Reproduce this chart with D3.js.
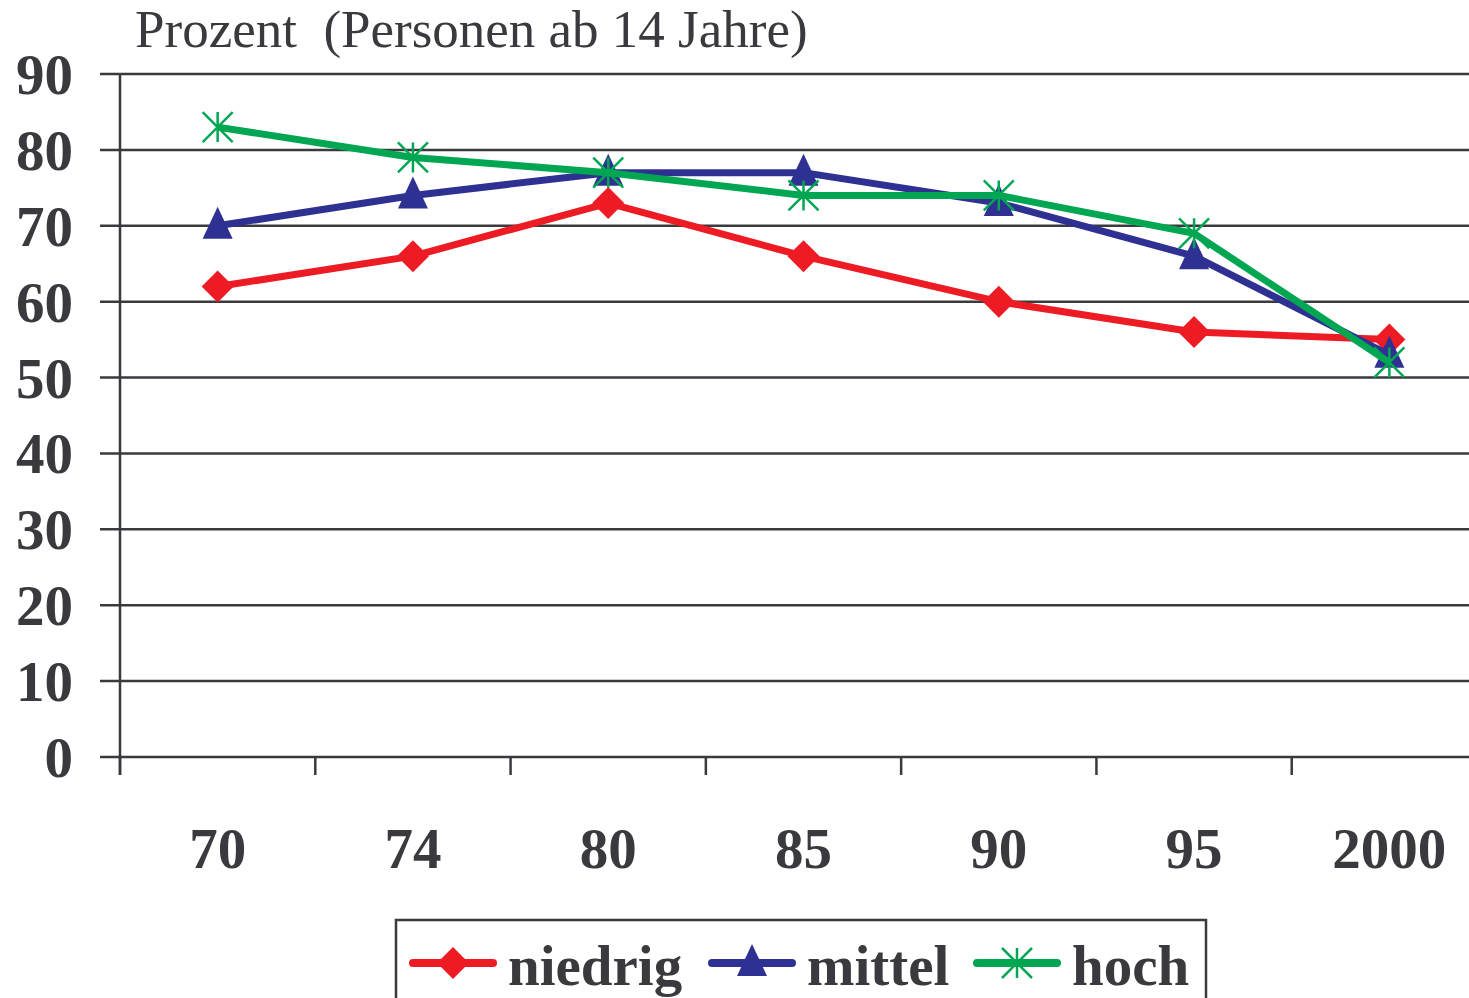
<!DOCTYPE html>
<html><head><meta charset="utf-8">
<script src="https://cdn.jsdelivr.net/npm/d3@7"></script>
<style>html,body{margin:0;padding:0;background:#fff;overflow:hidden}</style>
</head><body>
<svg id="c" width="1469" height="998"></svg>
<script>
const categories = ["70","74","80","85","90","95","2000"];
const niedrig = [62,66,73,66,60,56,55];
const mittel  = [70,74,77,77,73,66,53];
const hoch    = [83,79,77,74,74,69,52];
const yTicks = [0,10,20,30,40,50,60,70,80,90];
const seriesNames = ["niedrig","mittel","hoch"];
const seriesColors = ["#ED1C24","#2E3192","#00A651"];
const seriesShapes = ["diamond","triangle","star"];
const seriesValues = [niedrig, mittel, hoch];
const yTitle = "Prozent  (Personen ab 14 Jahre)";

const svg = d3.select("#c");
const ink = "#3a393e";
const font = "'Liberation Serif','Times New Roman',serif";

const x = d3.scaleBand().domain(categories).range([120, 1487]);
const y = d3.scaleLinear().domain([0, 90]).range([757, 74]);

svg.append("g").selectAll("line").data(yTicks).join("line")
  .attr("x1", 100).attr("x2", 1469)
  .attr("y1", d => y(d)).attr("y2", d => y(d))
  .attr("stroke", ink).attr("stroke-width", 2.5);

svg.append("line").attr("x1",120).attr("x2",120).attr("y1",y(90)).attr("y2",775)
  .attr("stroke", ink).attr("stroke-width", 2.5);

const bounds = categories.map(c => x(c));
svg.append("g").selectAll("line").data(bounds).join("line")
  .attr("x1", d=>d).attr("x2", d=>d).attr("y1", 757).attr("y2", 775)
  .attr("stroke", ink).attr("stroke-width", 2.5);

svg.append("g").selectAll("text").data(yTicks).join("text")
  .attr("x", 73).attr("y", d => y(d) + 20)
  .attr("text-anchor","end")
  .attr("font-family", font).attr("font-weight","bold").attr("font-size",57)
  .attr("fill", ink).text(d => d);

svg.append("g").selectAll("text").data(categories).join("text")
  .attr("x", d => x(d) + x.bandwidth()/2).attr("y", 868)
  .attr("text-anchor","middle")
  .attr("font-family", font).attr("font-weight","bold").attr("font-size",57)
  .attr("fill", ink).text(d => d);

svg.append("text").attr("x", 135).attr("y", 47)
  .attr("font-family", font).attr("font-size", 53).attr("fill", ink)
  .attr("xml:space","preserve").style("white-space","pre").text(yTitle);

function marker(g, shape, color, cx, cy) {
  if (shape === "diamond") {
    g.append("path").attr("d", `M${cx},${cy-16}L${cx+16},${cy}L${cx},${cy+16}L${cx-16},${cy}Z`).attr("fill", color);
  } else if (shape === "triangle") {
    g.append("path").attr("d", `M${cx},${cy-19}L${cx+15},${cy+13}L${cx-15},${cy+13}Z`).attr("fill", color);
  } else {
    const r = 15;
    g.append("path").attr("d", `M${cx},${cy-r}L${cx},${cy+r}M${cx-r},${cy-r}L${cx+r},${cy+r}M${cx-r},${cy+r}L${cx+r},${cy-r}`)
      .attr("stroke", color).attr("stroke-width", 2.5).attr("fill","none");
  }
}

const line = d3.line().x((d,i) => x(categories[i]) + x.bandwidth()/2).y(d => y(d));
seriesValues.forEach((vals, si) => {
  const g = svg.append("g");
  g.append("path").attr("d", line(vals)).attr("fill","none")
    .attr("stroke", seriesColors[si]).attr("stroke-width", 7).attr("stroke-linejoin","round");
  vals.forEach((v, i) => marker(g, seriesShapes[si], seriesColors[si], x(categories[i]) + x.bandwidth()/2, y(v)));
});

svg.append("rect").attr("x", 396).attr("y", 920).attr("width", 810).attr("height", 100)
  .attr("fill","none").attr("stroke", ink).attr("stroke-width", 2.5);
const legX = [413, 712, 977];
seriesNames.forEach((n, si) => {
  const g = svg.append("g");
  const lx = legX[si];
  g.append("line").attr("x1", lx).attr("x2", lx+80).attr("y1", 963).attr("y2", 963)
    .attr("stroke", seriesColors[si]).attr("stroke-width", 8).attr("stroke-linecap","round");
  marker(g, seriesShapes[si], seriesColors[si], lx+40, 963);
  g.append("text").attr("x", lx+95).attr("y", 985)
    .attr("font-family", font).attr("font-weight","bold").attr("font-size",57)
    .attr("fill", ink).text(n);
});
</script>
</body></html>
